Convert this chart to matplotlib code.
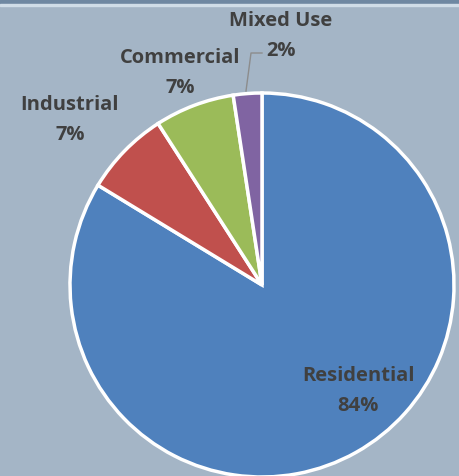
import numpy as np
import matplotlib.pyplot as plt

categories = ['Residential', 'Industrial', 'Commercial', 'Mixed Use']
shares = [83.7, 7.2, 6.7, 2.4]
colors = ['#4F81BD', '#C0504D', '#9BBB59', '#8064A2']

# label anchor points in pixels (centre of the two-line label)
label_px = [(358, 391), (70, 120), (180, 73), (281, 36)]

W, H = 459, 476
cx, cy, R = 262, 285, 192

fig = plt.figure(figsize=(W / 100, H / 100), dpi=100)
fig.patch.set_facecolor('#A4B5C6')
ax = fig.add_axes([0, 0, 1, 1])
ax.set_facecolor('#A4B5C6')

ax.pie(shares, colors=colors, startangle=90, counterclock=False,
       wedgeprops=dict(edgecolor='white', linewidth=2.5))

def to_data(px, py):
    return (px - cx) / R, (cy - py) / R

ax.set_xlim(to_data(0, 0)[0], to_data(W, 0)[0])
ax.set_ylim(to_data(0, H)[1], to_data(0, 0)[1])
ax.set_aspect('auto')
ax.axis('off')

for name, val, (px, py) in zip(categories, shares, label_px):
    x, y = to_data(px, py)
    ax.text(x, y, f'{name}\n{round(val)}%', ha='center', va='center',
            fontsize=14.5, fontweight='bold', color='#404040',
            family=['Open Sans', 'DejaVu Sans'], linespacing=1.65)

# leader line for the small slice
lx, ly = zip(*[to_data(246, 91), to_data(251, 53), to_data(262, 53)])
ax.plot(lx, ly, color='#8C8C8C', lw=1)

# top frame strip
fig.patches.append(plt.Rectangle((0, 1 - 4 / H), 1, 4 / H, transform=fig.transFigure,
                                 color='#6F88A2', zorder=5))
fig.patches.append(plt.Rectangle((0, 1 - 6 / H), 1, 2 / H, transform=fig.transFigure,
                                 color='#D0DDE8', zorder=5))

fig.savefig('out.png', dpi=100, facecolor=fig.get_facecolor())
